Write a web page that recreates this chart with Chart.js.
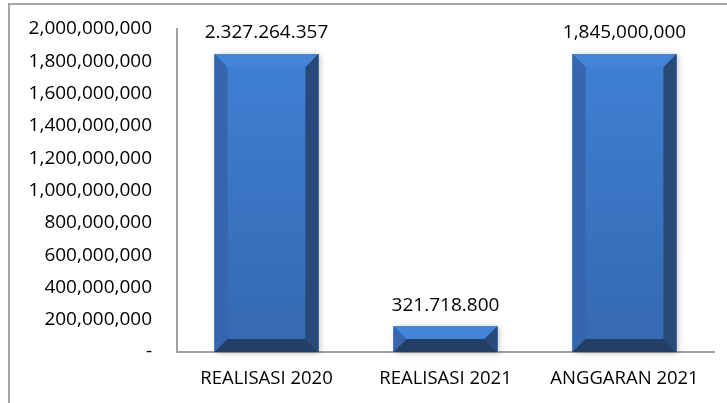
<!DOCTYPE html>
<html>
<head>
<meta charset="utf-8">
<script src="https://cdn.jsdelivr.net/npm/chart.js@4/dist/chart.umd.min.js"></script>
<style>
  html, body { margin: 0; padding: 0; background: #fff; overflow: hidden; }
  #wrap { position: relative; width: 727px; height: 403px; }
  #frame {
    position: absolute; left: 8px; top: 3px; width: 760px; height: 440px;
    border-left: 2px solid #a6a6a6; border-top: 2px solid #a6a6a6;
  }
  canvas { position: absolute; left: 0; top: 0; }
</style>
</head>
<body>
<div id="wrap">
  <div id="frame"></div>
  <canvas id="chart" width="727" height="403"></canvas>
</div>
<script>
// categories and values
const categories = ['REALISASI 2020', 'REALISASI 2021', 'ANGGARAN 2021'];
// bar heights as drawn
const values = [1845000000, 160000000, 1845000000];
// text written above each bar
const valueLabels = ['2.327.264.357', '321.718.800', '1,845,000,000'];

const FONT = '"Open Sans", "Liberation Sans", sans-serif';

// bevel look for each bar, drawn over the bar elements
const bevelPlugin = {
  id: 'bevel',
  afterDatasetsDraw(chart) {
    const ctx = chart.ctx;
    const meta = chart.getDatasetMeta(0);
    meta.data.forEach((bar, i) => {
      const p = bar.getProps(['x', 'y', 'base', 'width'], true);
      const l = p.x - p.width / 2, r = p.x + p.width / 2;
      const t = p.y, b = p.base;
      const s = Math.min(13, (b - t) / 2, p.width / 2);

      ctx.save();
      ctx.shadowColor = 'rgba(0,0,0,0.25)';
      ctx.shadowBlur = 6;
      ctx.shadowOffsetX = 2;
      ctx.shadowOffsetY = 1;
      ctx.fillStyle = '#3a70bb';
      ctx.fillRect(l, t, r - l, b - t);
      ctx.restore();

      // face gradient
      const g = ctx.createLinearGradient(0, t, 0, b);
      g.addColorStop(0, '#3f80d4');
      g.addColorStop(1, '#3568b0');
      ctx.fillStyle = g;
      ctx.fillRect(l, t, r - l, b - t);

      const poly = (pts, col) => {
        ctx.beginPath();
        ctx.moveTo(pts[0][0], pts[0][1]);
        for (let k = 1; k < pts.length; k++) ctx.lineTo(pts[k][0], pts[k][1]);
        ctx.closePath();
        ctx.fillStyle = col;
        ctx.fill();
      };
      poly([[l, t], [r, t], [r - s, t + s], [l + s, t + s]], '#4485da');
      poly([[l, t], [l + s, t + s], [l + s, b - s], [l, b]], '#3566ae');
      poly([[r, t], [r - s, t + s], [r - s, b - s], [r, b]], '#284a79');
      poly([[l, b], [l + s, b - s], [r - s, b - s], [r, b]], '#243f66');

      // value label
      ctx.save();
      ctx.font = '19px ' + FONT;
      ctx.fillStyle = '#000';
      ctx.textAlign = 'center';
      ctx.textBaseline = 'middle';
      ctx.fillText(valueLabels[i], p.x, t - 21);
      ctx.restore();
    });
  }
};

new Chart(document.getElementById('chart'), {
  type: 'bar',
  data: {
    labels: categories,
    datasets: [{
      data: values,
      backgroundColor: '#3a70bb',
      borderWidth: 0,
      barPercentage: 0.58,
      categoryPercentage: 1.0
    }]
  },
  options: {
    responsive: false,
    animation: false,
    devicePixelRatio: 1,
    layout: { padding: { top: 29, right: 13, bottom: 0, left: 0 } },
    plugins: {
      legend: { display: false },
      tooltip: { enabled: false }
    },
    scales: {
      x: {
        grid: { display: false, drawTicks: false },
        border: { display: true, color: '#a0a0a0', width: 2 },
        ticks: { color: '#000', font: { family: FONT, size: 18.5 }, padding: 16, maxRotation: 0 },
        afterFit(scale) { scale.height = 51; }
      },
      y: {
        min: 0,
        max: 2000000000,
        grid: { display: false, drawTicks: false },
        border: { display: true, color: '#a0a0a0', width: 2 },
        ticks: {
          stepSize: 200000000,
          color: '#000',
          padding: 25,
          font: { family: FONT, size: 19 },
          callback: (v) => v === 0 ? '-' : v.toLocaleString('en-US')
        },
        afterFit(scale) {
          scale.width = 177;
          // the top label padding comes out too big, the layout padding handles it
          scale.paddingTop = 0;
          scale.paddingBottom = 0;
        }
      }
    }
  },
  plugins: [bevelPlugin]
});
</script>
</body>
</html>
